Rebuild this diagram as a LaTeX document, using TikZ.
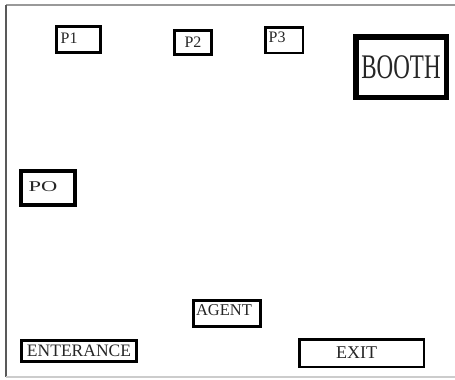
\documentclass[tikz,border=0pt]{standalone}
\usepackage{fontspec}
\setmainfont{Liberation Serif}
\usepackage{tikz}
\usetikzlibrary{positioning}

\begin{document}
\begin{tikzpicture}[x=1pt,y=-1pt,
  box/.style={draw, rectangle, inner sep=0pt, line width=#1},
  box/.default=3pt,
  tag/.style={font=\fontsize{#1}{#1}\selectfont, text=black!85, inner sep=0pt}]
\useasboundingbox (0,0) rectangle (455,380);

% Frame
\draw[gray!80, line width=1.2pt] (6,5) -- (455,5);
\draw[gray!70!black, line width=2.2pt] (6,5) -- (6,377);
\draw[gray!40, line width=1.2pt] (6,377) -- (455,377);

% Top row
\node[box, minimum width=44, minimum height=26,
  label={[tag=16, anchor=north west, xshift=5.5pt, yshift=-7.5pt]north west:P1}] (p1) at (78.5,39.5) {};
\node[box, tag=16, minimum width=37, minimum height=24] (p2) at (193,42.5) {P2};
\node[box=2.5pt, minimum width=37.5, minimum height=25.5,
  label={[tag=16, anchor=north west, xshift=4.5pt, yshift=-5.5pt]north west:P3}] (p3) at (284,40) {};
\node[box=5.5pt, tag=23, minimum width=90.5, minimum height=60.5] (booth) at (401,67) {\scalebox{1}[1.5]{BOOTH}};

% Left
\node[box=4pt, minimum width=54, minimum height=34,
  label={[tag=15, xshift=-5pt, yshift=1pt]center:\scalebox{1.5}[1]{PO}}] (po) at (48,188) {};

% Bottom
\node[box, minimum width=67, minimum height=26,
  label={[tag=16.5, xshift=-3pt, yshift=3pt]center:AGENT}] (agent) at (227,313.5) {};
\node[box, tag=17.5, minimum width=115, minimum height=21] (entrance) at (79,351) {ENTERANCE};
\node[box=2.5pt, minimum width=124.5, minimum height=27.5,
  label={[tag=18, xshift=-5pt]center:EXIT}] (exit) at (361.5,353) {};
\end{tikzpicture}
\end{document}
